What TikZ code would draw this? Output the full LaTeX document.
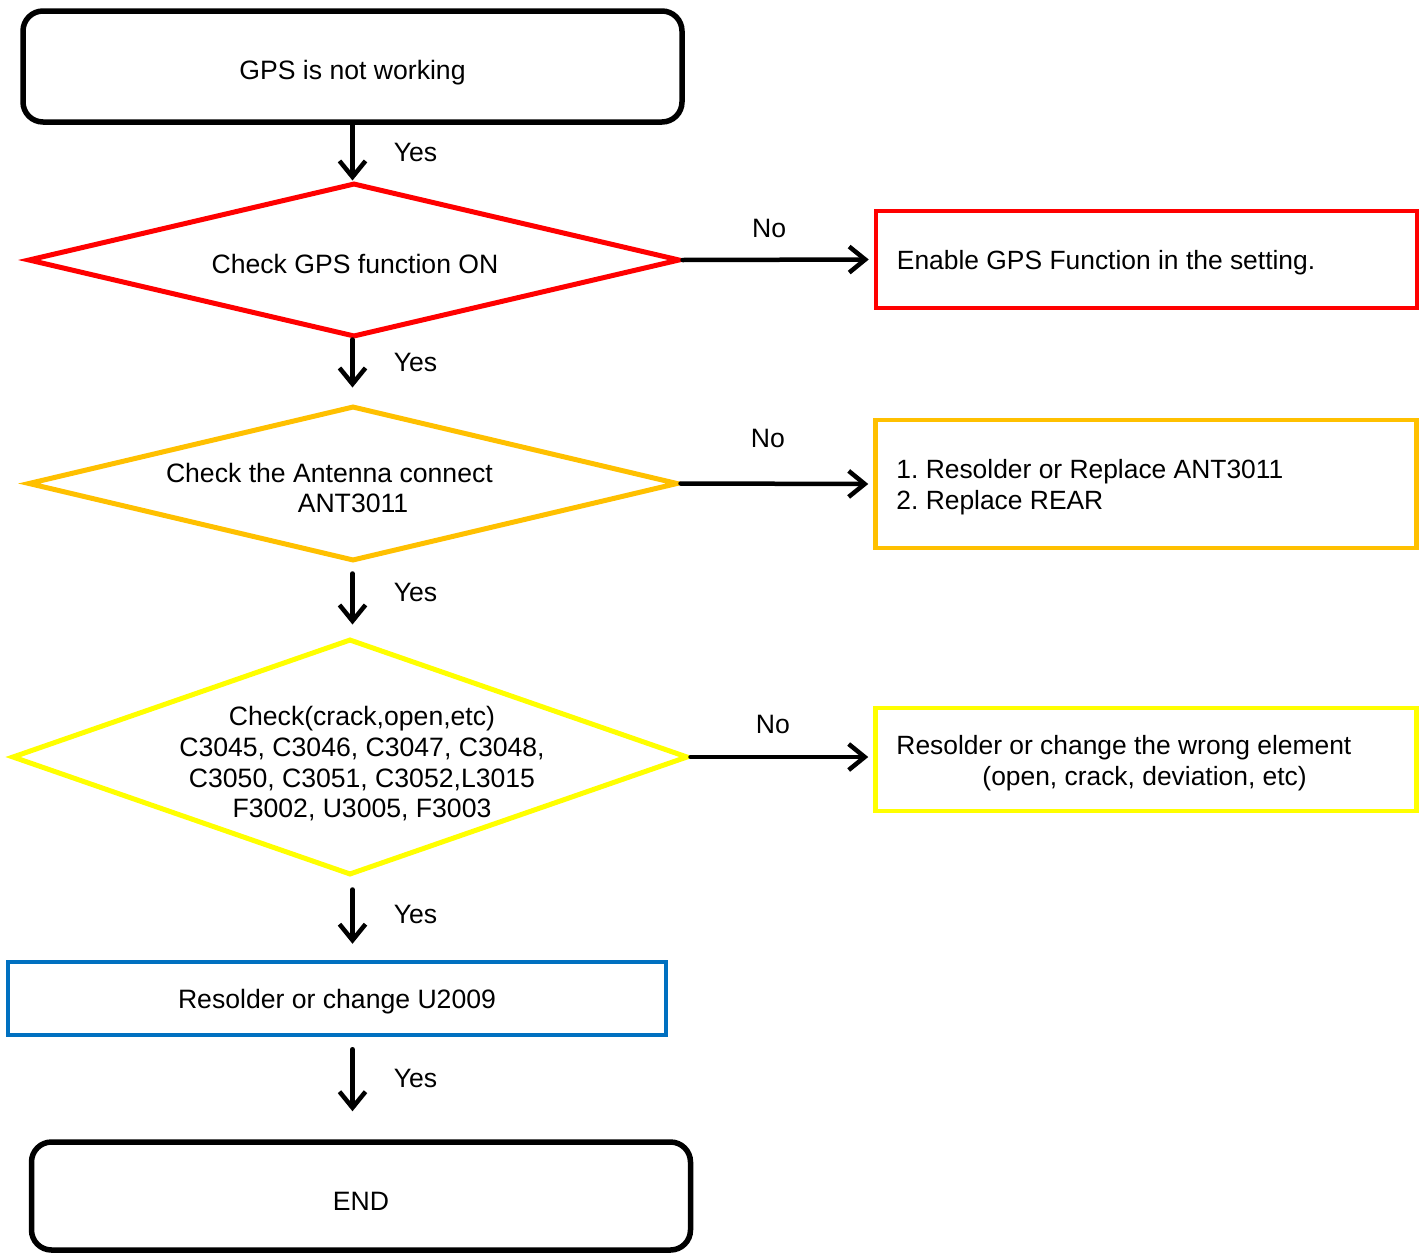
\documentclass[tikz,border=0pt]{standalone}
\usepackage{fontspec}
\setmainfont{Liberation Sans}
\frenchspacing
\usetikzlibrary{arrows.meta,shapes.geometric,calc}
\definecolor{cred}{RGB}{255,0,0}
\definecolor{corange}{RGB}{255,192,0}
\definecolor{cyellow}{RGB}{255,255,0}
\definecolor{cblue}{RGB}{0,112,192}
\begin{document}
\begin{tikzpicture}[x=1pt,y=-1pt,
  every node/.style={font=\fontsize{26.6}{30.7}\selectfont, inner sep=0pt},
  term/.style={draw, rounded corners=20pt, line width=5.5pt, minimum width=659pt},
  dec/.style={draw, diamond, line width=5pt, inner sep=0pt},
  act/.style={draw, line width=4.5pt, rectangle, minimum width=541pt},
  acttext/.style={anchor=west, align=left, font=\fontsize{26.4}{30.7}\selectfont},
  arr/.style={line width=4.5pt, -{Straight Barb[length=16pt,width=26pt]}, line cap=round, line join=round},
  yes/.style={midway, xshift=63pt},
  no/.style={midway, xshift=-9pt},
]
\useasboundingbox (0,0) rectangle (1425,1253);

\node[term, minimum height=111pt] (start) at (352.5,66.5) {};
\node (t0) at (352.5,72.5) {GPS is not working};

\node[dec, draw=cred, minimum width=652pt, minimum height=154pt] (d1) at (354,260) {};
\node (t1) at (355,264) {Check GPS function ON};
\node[act, draw=cred, minimum height=97pt] (b1) at (1146.5,259.5) {};
\node[acttext] (b1t) at ([xshift=23pt]b1.west |- 0,262.5) {Enable GPS Function in the setting.};

\node[dec, draw=corange, minimum width=650pt, minimum height=155pt] (d2) at (353,483.5) {};
\node[align=center] (t2) at (353,488) {\makebox[374pt][l]{Check the Antenna connect}\\ANT3011};
\node[act, draw=corange, minimum height=128pt] (b2) at (1146,484) {};
\node[acttext] (b2t) at ([xshift=23pt]b2.west |- 0,487) {1. Resolder or Replace ANT3011\\2. Replace REAR};

\node[dec, draw=cyellow, minimum width=676pt, minimum height=236pt] (d3) at (350,757) {};
\node[align=center] (t3) at (362,764) {Check(crack,open,etc)\\C3045, C3046, C3047, C3048,\\C3050, C3051, C3052,L3015\\F3002, U3005, F3003};
\node[act, draw=cyellow, minimum height=103pt] (b3) at (1146,759.5) {};
\node[acttext] (b3t) at ([xshift=23pt]b3.west |- 0,763) {Resolder or change the wrong element\\\hspace*{86pt}(open, crack, deviation, etc)};

\node[draw=cblue, line width=4.5pt, minimum width=658pt, minimum height=73pt] (fix) at (337,998.5) {};
\node (t4) at (337,1001.5) {Resolder or change U2009};

\node[term, minimum height=108pt] (end) at (361,1196) {};
\node (t5) at (361,1201) {END};

% vertical connectors
\draw[arr] (start.south) -- (d1.north -| start.south) node[yes]{Yes};
\draw[arr, shorten >=16pt] (d1.south -| start.south) -- (d2.north -| start.south) node[yes, yshift=9.5pt]{Yes};
\draw[arr, shorten <=10pt, shorten >=12pt] (d2.south -| start.south) -- (d3.north -| start.south) node[yes, yshift=8pt]{Yes};
\draw[arr, shorten <=12pt, shorten >=16pt] (d3.south -| start.south) -- (fix.north -| start.south) node[yes, yshift=4.5pt]{Yes};
\draw[arr, shorten <=12pt, shorten >=28pt] (fix.south -| start.south) -- (end.north -| start.south) node[yes, yshift=10pt]{Yes};

% horizontal connectors
\draw[arr, shorten >=5pt] (d1.east) -- (b1.west) node[no, yshift=31pt]{No};
\draw[arr, shorten >=5pt] (d2.east) -- (b2.west) node[no, yshift=45pt]{No};
\draw[arr, shorten >=5pt] (d3.east) -- (d3.east -| b3.west) node[no, yshift=33pt]{No};
\end{tikzpicture}
\end{document}
